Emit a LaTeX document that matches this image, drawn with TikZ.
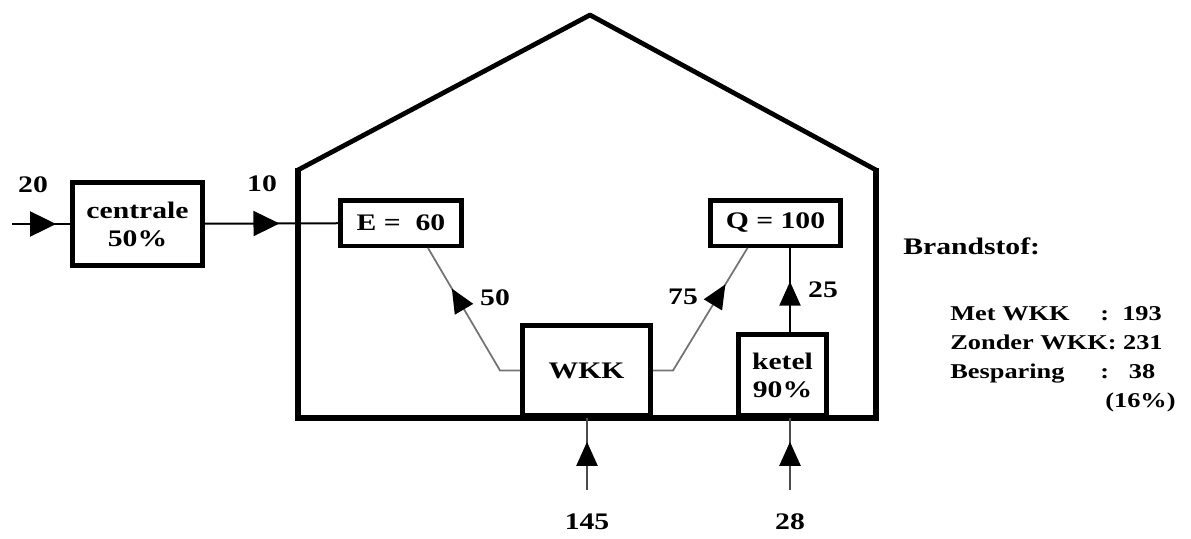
\documentclass[tikz,border=0pt]{standalone}
\usepackage{fontspec}
\setmainfont{Liberation Serif}[FakeStretch=1.25]
\usetikzlibrary{arrows.meta, positioning, calc, decorations.markings}

\begin{document}
\begin{tikzpicture}[
    x=0.02cm, y=-0.02cm,
    every node/.style={font=\bfseries\fontsize{13.5}{16}\selectfont, align=center, inner sep=0pt},
    blok/.style={draw, line width=0.09cm, fill=white},
    stroom/.style={line width=0.04cm},
    grijs/.style={draw=black!55, line width=0.035cm},
    pijl/.style={postaction={decorate}, decoration={markings,
        mark=at position #1 with {\arrow{Triangle[length=0.48cm, width=0.42cm, color=black]}}}},
    grotepijl/.style={postaction={decorate}, decoration={markings,
        mark=at position #1 with {\arrow{Triangle[length=0.52cm, width=0.5cm, color=black]}}}}
]
\useasboundingbox (0,0) rectangle (1191,538);

% huis
\draw[line width=0.13cm] (298,168) -- (298,418) -- (876,418) -- (876,168);
\draw[line width=0.095cm, line join=round] (298,170) -- (590,15) -- (876,170);

% blokken
\node[blok, minimum width=2.61cm, minimum height=1.67cm] (centrale) at (137.5,224) {centrale\\50\%};
\node[blok, minimum width=2.43cm, minimum height=0.91cm] (e) at (401,223) {E =~ 60};
\node[blok, minimum width=2.61cm, minimum height=0.91cm] (q) at (775.5,223) {Q = 100};
\node[blok, minimum width=2.57cm, minimum height=1.81cm] (wkk) at (586.5,370.5) {WKK};
\node[blok, minimum width=1.77cm, minimum height=1.63cm] (ketel) at (782.5,375) {ketel\\90\%};

\coordinate (in) at (12,224);
\coordinate (w145) at (587,490);
\coordinate (k28) at (790,490);

% stromen
\draw[stroom, grotepijl=0.76] (in) -- (centrale);
\draw[stroom, grotepijl=0.56] (centrale) -- (e);
\draw[grijs, pijl=0.71] (wkk.west) -- ++(-20,0) -- ($(e.south)+(27,0)$);
\draw[grijs, pijl=0.74] (wkk.east) -- ++(20,0) -- ($(q.south)+(-28,0)$);
\draw[stroom, pijl=0.6] (ketel.north -| k28) -- (q.south -| k28);
\draw[stroom, black!70, pijl=0.67] (w145) -- (w145 |- wkk.south);
\draw[stroom, black!70, pijl=0.67] (k28) -- (k28 |- ketel.south);

% getallen
\node (n20) at (33,185) {20};
\node (n10) at (262,184) {10};
\node (n50) at (495,298) {50};
\node (n75) at (683,297) {75};
\node (n25) at (823,290) {25};
\node (n145) at (587,522) {145};
\node (n28) at (790,522) {28};

% brandstof
\node[anchor=west, font=\bfseries\fontsize{13.5}{16}\selectfont] (brandstof) at (903,246) {Brandstof:};
\node[anchor=north west, align=left, font=\bfseries\fontsize{12}{16.5}\selectfont] (tabel) at (950,306)
    {\makebox[3cm][l]{Met WKK}:\ \ 193\\
     Zonder WKK:\ 231\\
     \makebox[3cm][l]{Besparing}:\ \ \ 38\\
     \hspace{3.1cm}(16\%)};
\end{tikzpicture}
\end{document}
